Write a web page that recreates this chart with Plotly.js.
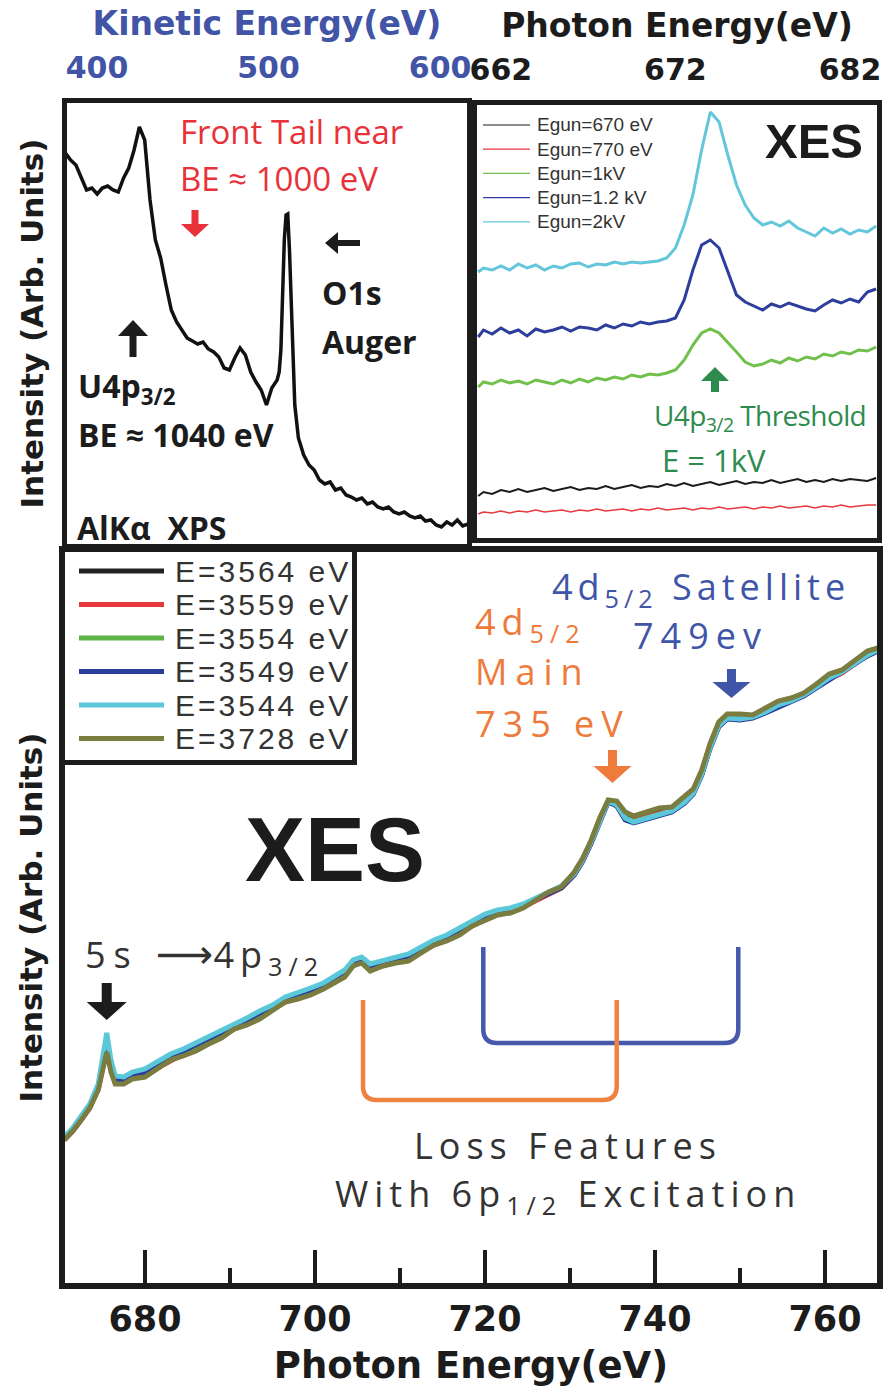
<!DOCTYPE html>
<html>
<head>
<meta charset="utf-8">
<script src="https://cdn.plot.ly/plotly-3.0.1.min.js"></script>
<style>
  html, body { margin: 0; padding: 0; background: #fff; }
  #chart { width: 883px; height: 1395px; }
</style>
</head>
<body>
<div id="chart"></div>
<script>
// ---------- Al Kα XPS survey: kinetic energy (eV) vs intensity ----------
const xpsKE = [381.5, 384.6, 387.7, 390.8, 393.9, 397.0, 400.1, 403.1, 406.2, 409.3,
  412.4, 415.5, 418.5, 421.6, 424.7, 427.8, 430.9, 434.0, 437.1, 440.2,
  443.3, 446.4, 449.4, 452.5, 455.6, 458.7, 461.8, 464.9, 468.0, 471.0,
  474.1, 477.2, 480.3, 483.4, 486.5, 489.6, 492.7, 495.7, 498.8, 501.9,
  505.0, 506.2, 507.2, 508.1, 509.2, 510.2, 511.2, 512.2, 513.3, 514.3,
  515.3, 517.4, 520.5, 523.6, 526.6, 529.7, 532.8, 535.9, 539.0, 542.1,
  545.2, 548.3, 551.3, 554.4, 557.6, 560.6, 563.7, 566.8, 569.9, 573.0,
  576.1, 579.2, 582.3, 585.4, 588.5, 591.5, 594.6, 597.7, 600.8, 603.9,
  607.0, 610.1, 613.2, 616.3];
const xpsIntensity = [393, 386, 381, 368, 356, 358, 352, 358, 360, 356,
  354, 368, 378, 396, 419, 406, 346, 306, 288, 261,
  236, 224, 216, 208, 205, 202, 204, 197, 194, 189,
  178, 176, 188, 198, 191, 174, 164, 156, 141, 158,
  166, 174, 196, 246, 306, 331, 332, 296, 236, 176,
  141, 108, 91, 81, 76, 66, 62, 64, 56, 58,
  51, 49, 46, 48, 42, 44, 39, 37, 39, 34,
  32, 34, 30, 28, 30, 25, 26, 21, 19, 24,
  21, 26, 20, 22];

// ---------- XES near the U4p3/2 threshold, for several gun energies ----------
const xesEnergy = [660.7, 661.0, 661.5, 662.0, 662.5, 663.0, 663.5, 664.0, 664.5, 665.0,
  665.5, 666.0, 666.5, 667.0, 667.5, 668.0, 668.5, 669.0, 669.5, 670.0,
  670.5, 671.0, 671.5, 672.0, 672.5, 673.0, 673.5, 674.0, 674.5, 675.0,
  675.5, 676.0, 676.5, 677.0, 677.5, 678.0, 678.5, 679.0, 679.5, 680.0,
  680.5, 681.0, 681.5, 682.0, 682.5, 683.0, 683.5];
const xesLabels = ['Egun=670 eV', 'Egun=770 eV', 'Egun=1kV', 'Egun=1.2 kV', 'Egun=2kV'];
const xesGun670 = [50, 54, 52, 56, 54, 57, 54, 56, 58, 55, 57, 59, 56, 58, 57, 60, 57, 59, 61, 58,
  60, 59, 62, 60, 63, 60, 62, 64, 61, 63, 65, 62, 64, 63, 66, 63, 65, 67, 64, 66,
  64, 67, 65, 67, 66, 65, 68];
const xesGun770 = [32, 34, 33, 35, 33, 35, 34, 36, 34, 35, 36, 34, 36, 35, 37, 35, 36, 37, 35, 37,
  36, 38, 36, 37, 38, 36, 38, 37, 39, 37, 38, 39, 37, 39, 38, 40, 38, 39, 40, 38,
  40, 39, 41, 39, 40, 41, 41];
const xesGun1k = [159, 164, 162, 166, 163, 165, 162, 166, 164, 162, 166, 163, 167, 164, 168, 166, 169, 167, 171, 169,
  172, 171, 173, 176, 186, 201, 213, 217, 213, 204, 194, 184, 180, 182, 186, 183, 188, 185, 189, 187,
  192, 190, 194, 192, 196, 195, 199];
const xesGun1p2k = [209, 216, 212, 218, 213, 216, 210, 217, 214, 216, 219, 215, 219, 218, 216, 221, 218, 222, 220, 224,
  222, 224, 225, 228, 246, 276, 301, 306, 298, 274, 251, 244, 240, 236, 242, 239, 243, 240, 237, 235,
  241, 246, 243, 247, 244, 254, 257];
const xesGun2k = [274, 278, 276, 280, 276, 282, 278, 281, 276, 280, 278, 282, 283, 279, 282, 281, 284, 282, 284, 283,
  284, 285, 288, 298, 321, 351, 396, 434, 424, 391, 361, 341, 328, 321, 324, 320, 325, 318, 314, 310,
  318, 313, 317, 312, 316, 314, 320];

// ---------- XES over the 4d region, for several excitation energies ----------
const xesWideEnergy = [670.5, 671.5, 672.5, 673.5, 674.5, 675.0, 675.5, 676.0, 676.5, 677.5,
  678.5, 680.0, 681.5, 683.0, 684.5, 686.0, 687.5, 689.0, 690.5, 692.0,
  693.5, 695.0, 696.5, 698.0, 699.5, 701.0, 702.5, 703.5, 704.5, 705.5,
  706.5, 708.0, 709.5, 711.0, 712.5, 714.0, 715.5, 717.0, 718.5, 720.0,
  721.5, 723.0, 724.5, 726.0, 727.5, 729.0, 730.5, 731.5, 732.5, 733.5,
  734.5, 735.5, 736.5, 737.5, 739.0, 740.5, 742.0, 743.5, 744.5, 745.5,
  746.5, 747.5, 748.5, 750.0, 751.5, 753.0, 754.5, 756.0, 757.5, 759.0,
  760.5, 762.0, 763.5, 765.0, 766.5];
const wideLabels = ['E=3564 eV', 'E=3559 eV', 'E=3554 eV', 'E=3549 eV', 'E=3544 eV', 'E=3728 eV'];
const wide3564 = [151, 160, 171, 183, 202, 225, 243, 222, 208, 208, 213, 216, 223, 231, 237, 242, 248, 254, 262, 267,
  274, 281, 289, 293, 298, 303, 310, 316, 326, 329, 322, 325, 329, 332, 339, 346, 351, 358, 366, 372,
  377, 379, 384, 390, 397, 403, 416, 430, 448, 471, 489, 486, 473, 470, 474, 477, 481, 490, 498, 517,
  544, 565, 573, 572, 574, 579, 585, 590, 596, 604, 612, 618, 627, 636, 641];
const wide3559 = [150, 159, 170, 182, 201, 224, 242, 221, 207, 207, 212, 215, 222, 230, 236, 241, 247, 253, 261, 266,
  273, 280, 288, 292, 297, 302, 309, 315, 325, 328, 321, 324, 328, 331, 338, 345, 350, 357, 365, 371,
  376, 378, 383, 389, 396, 402, 415, 429, 447, 470, 488, 485, 471, 469, 473, 476, 480, 489, 497, 516,
  543, 564, 572, 571, 573, 578, 584, 589, 595, 603, 611, 617, 626, 635, 640];
const wide3554 = [151, 160, 171, 183, 201, 226, 244, 223, 209, 209, 214, 216, 223, 231, 237, 243, 249, 255, 263, 268,
  275, 282, 290, 294, 299, 304, 311, 317, 327, 330, 323, 326, 330, 333, 340, 347, 352, 359, 367, 373,
  378, 380, 385, 391, 398, 404, 417, 431, 449, 471, 489, 487, 472, 468, 472, 475, 479, 488, 497, 516,
  543, 564, 572, 571, 573, 578, 584, 589, 595, 603, 611, 618, 626, 635, 641];
const wide3549 = [152, 160, 172, 184, 203, 228, 247, 226, 211, 210, 216, 218, 226, 234, 239, 245, 251, 257, 264, 270,
  277, 283, 291, 295, 300, 305, 312, 318, 328, 331, 324, 327, 331, 334, 341, 348, 353, 360, 368, 374,
  379, 381, 385, 391, 397, 402, 415, 429, 447, 469, 488, 484, 470, 467, 471, 474, 478, 487, 496, 515,
  542, 563, 571, 570, 572, 577, 583, 588, 594, 602, 610, 617, 625, 634, 640];
const wide3544 = [153, 162, 174, 186, 206, 235, 257, 230, 214, 213, 218, 221, 228, 236, 241, 247, 253, 259, 266, 272,
  279, 285, 293, 297, 302, 307, 314, 320, 330, 333, 326, 329, 333, 336, 343, 350, 355, 362, 370, 376,
  380, 382, 386, 392, 399, 404, 416, 430, 448, 470, 489, 485, 472, 468, 472, 475, 479, 488, 497, 516,
  543, 564, 572, 571, 573, 578, 585, 589, 595, 603, 612, 618, 626, 635, 641];
const wide3728 = [150, 159, 170, 182, 200, 220, 238, 218, 206, 206, 211, 213, 221, 230, 234, 239, 246, 252, 261, 265,
  271, 279, 288, 291, 295, 301, 309, 313, 324, 327, 319, 324, 327, 329, 337, 345, 349, 355, 364, 370,
  375, 377, 382, 390, 398, 403, 418, 432, 450, 472, 490, 489, 478, 474, 478, 482, 483, 493, 501, 520,
  547, 568, 576, 576, 575, 582, 589, 592, 597, 606, 616, 620, 629, 639, 643];

// Feature energies marked on the 4d panel (eV)
const line5s = 675.5, line4dMain = 735, line4dSat = 749;
// Loss-feature brackets: [start, end] energies (eV)
const lossMain = [705.65, 735.5], lossSat = [719.8, 749.8];

// ---------- styling ----------
const W = 883, H = 1395;
const px = x => x / W;          // pixel column -> paper x
const py = y => 1 - y / H;      // pixel row (from top) -> paper y
const INK = '#1c1c1c';
const AXF = 'DejaVu Sans';
const ANF = 'Open Sans';
const ARF = 'Liberation Sans';
const BLUE_T = '#4254a5', RED_T = '#e8323a', ORANGE = '#ee7a3b', BLUE2 = '#3f55a8', GREEN_T = '#2e8b4e';

const xesColors = ['#1b1b1b', '#e8393e', '#72c04c', '#2d3e9c', '#63c6da'];
const xesWidths = [2, 1.6, 3, 3, 3];
const xesSeries = [xesGun670, xesGun770, xesGun1k, xesGun1p2k, xesGun2k];
const wideColors = ['#222222', '#e5383b', '#5fb347', '#2b3d9a', '#5bc8d9', '#7b7d40'];
const wideSeries = [wide3564, wide3559, wide3554, wide3549, wide3544, wide3728];

const traces = [];
traces.push({x: xpsKE, y: xpsIntensity, xaxis: 'x2', yaxis: 'y2', mode: 'lines',
  name: 'AlKα XPS', line: {color: '#111', width: 3.5}});
xesSeries.forEach((s, i) => traces.push({x: xesEnergy, y: s, xaxis: 'x3', yaxis: 'y3', mode: 'lines',
  name: xesLabels[i], line: {color: xesColors[i], width: xesWidths[i]}}));
wideSeries.forEach((s, i) => traces.push({x: xesWideEnergy, y: s, xaxis: 'x', yaxis: 'y', mode: 'lines',
  name: wideLabels[i], line: {color: wideColors[i], width: 5}}));

const noGrid = {showgrid: false, zeroline: false};
const frame = (lw) => ({showline: true, mirror: true, linewidth: lw, linecolor: INK});

const layout = {
  width: W, height: H,
  margin: {l: 0, r: 0, t: 0, b: 0},
  paper_bgcolor: '#fff', plot_bgcolor: '#fff',
  showlegend: false,
  // 4d-region panel
  xaxis: Object.assign({domain: [px(65), px(877)], range: [670.59, 766.12], anchor: 'y',
    ticks: 'inside', ticklen: 33, tickwidth: 3.5, tickcolor: INK, tick0: 680, dtick: 20,
    minor: {ticks: 'inside', ticklen: 15, tickwidth: 3.5, tickcolor: INK, tick0: 680, dtick: 10},
    tickfont: {family: AXF, size: 35, color: INK, weight: 700},
    title: {text: 'Photon Energy(eV)', font: {family: AXF, size: 37, color: INK, weight: 700}, standoff: 16}
  }, noGrid, frame(6)),
  yaxis: Object.assign({domain: [py(1283), py(552)], range: [7, 738], anchor: 'x',
    ticks: '', showticklabels: false,
    title: {text: 'Intensity (Arb. Units)', font: {family: AXF, size: 31, color: INK, weight: 700}, standoff: 9}
  }, noGrid, frame(6)),
  // XPS panel
  xaxis2: Object.assign({domain: [px(67), px(467)], range: [382.5, 615.7], anchor: 'y2', side: 'top',
    ticks: '', tickvals: [400, 500, 600], ticklabelstandoff: 8,
    tickfont: {family: AXF, size: 30, color: BLUE_T, weight: 700},
    title: {text: 'Kinetic Energy(eV)', font: {family: AXF, size: 33, color: BLUE_T, weight: 700}, standoff: 6}
  }, noGrid, frame(5)),
  yaxis2: Object.assign({domain: [py(544), py(103)], range: [2, 443], anchor: 'x2',
    ticks: '', showticklabels: false,
    title: {text: 'Intensity (Arb. Units)', font: {family: AXF, size: 31, color: INK, weight: 700}, standoff: 11}
  }, noGrid, frame(5)),
  // low-energy XES panel
  xaxis3: Object.assign({domain: [px(477), px(877)], range: [660.63, 683.55], anchor: 'y3', side: 'top',
    ticks: '', tickvals: [662, 672, 682], ticklabelstandoff: 8,
    tickfont: {family: AXF, size: 30, color: INK, weight: 700},
    title: {text: 'Photon Energy(eV)', font: {family: AXF, size: 33, color: INK, weight: 700}, standoff: 6}
  }, noGrid, frame(5)),
  yaxis3: Object.assign({domain: [py(538), py(105)], range: [8, 441], anchor: 'x3',
    ticks: '', showticklabels: false}, noGrid, frame(5)),
  annotations: [],
  shapes: []
};

const A = layout.annotations, S = layout.shapes;
function text(t, x, y, font, extra) {
  A.push(Object.assign({text: t, x: px(x), y: py(y), xref: 'paper', yref: 'paper', showarrow: false,
    xanchor: 'left', yanchor: 'middle', font: font}, extra || {}));
}
// Block arrow drawn as a filled path, sized in pixels around its tip.
// dir: 'down' | 'up' | 'left'; L = total length, h = head length, sw/hw = half widths of shaft/head.
function blockArrow(x, y, dir, L, h, sw, hw, color, xref) {
  let p;
  if (dir === 'down') p = `M${-sw},${L} L${sw},${L} L${sw},${h} L${hw},${h} L0,0 L${-hw},${h} L${-sw},${h} Z`;
  else if (dir === 'up') p = `M${-sw},${-L} L${sw},${-L} L${sw},${-h} L${hw},${-h} L0,0 L${-hw},${-h} L${-sw},${-h} Z`;
  else p = `M${L},${-sw} L${L},${sw} L${h},${sw} L${h},${hw} L0,0 L${h},${-hw} L${h},${-sw} Z`;
  S.push({type: 'path', xref: xref || 'paper', yref: 'paper', xsizemode: 'pixel', ysizemode: 'pixel',
    xanchor: xref ? x : px(x), yanchor: py(y), path: p, fillcolor: color, line: {width: 0}, layer: 'above'});
}
const sp = (s, t) => '<span style="letter-spacing:' + s + 'px">' + t + '</span>';

// --- XPS panel labels
text('Front Tail near', 178, 132, {family: ANF, size: 33, color: RED_T});
text('BE ≈ 1000 eV', 178, 179, {family: ANF, size: 33, color: RED_T});
blockArrow(195, 237, 'down', 27, 13, 3.5, 14, RED_T);
blockArrow(325, 243, 'left', 35, 13, 3, 11, INK);
text('O1s', 320, 292, {family: ANF, size: 32, color: INK, weight: 700});
text('Auger', 320, 341, {family: ANF, size: 32, color: INK, weight: 700});
blockArrow(133, 320, 'up', 37, 16, 3.5, 15, INK);
text('U4p<sub>3/2</sub>', 76, 388, {family: ANF, size: 32, color: INK, weight: 700});
text('BE ≈ 1040 eV', 76, 435, {family: ANF, size: 32, color: INK, weight: 700});
text('AlKα  XPS', 75, 527, {family: ANF, size: 32, color: INK, weight: 700});

// --- low-energy XES labels
text('XES', 814, 141, {family: ARF, size: 49, color: INK, weight: 700}, {xanchor: 'center'});
blockArrow(715, 367, 'up', 25, 14, 4, 14, GREEN_T);
text(sp(-0.6, 'U4p<sub>3/2</sub> Threshold'), 652, 417, {family: ANF, size: 28, color: GREEN_T});
text('E = 1kV', 714, 460, {family: ANF, size: 31, color: GREEN_T}, {xanchor: 'center'});
xesLabels.forEach((lab, i) => {
  const yy = 125 + i * 24.2;
  S.push({type: 'line', xref: 'paper', yref: 'paper', x0: px(483), x1: px(530), y0: py(yy), y1: py(yy),
    line: {color: xesColors[i], width: 1.2}});
  text(lab, 535, yy, {family: ARF, size: 19, color: '#333'});
});

// --- 4d panel legend (boxed)
S.push({type: 'line', xref: 'paper', yref: 'paper', x0: px(354.5), x1: px(354.5), y0: py(549), y1: py(765),
  line: {color: INK, width: 5}});
S.push({type: 'line', xref: 'paper', yref: 'paper', x0: px(62), x1: px(357), y0: py(762.5), y1: py(762.5),
  line: {color: INK, width: 5}});
wideLabels.forEach((lab, i) => {
  const yy = 571 + i * 33.5;
  S.push({type: 'line', xref: 'paper', yref: 'paper', x0: px(79), x1: px(164), y0: py(yy), y1: py(yy),
    line: {color: wideColors[i], width: 5}});
  text(sp(3, lab), 173, yy, {family: ARF, size: 30, color: '#333'});
});

// --- 4d panel labels
text('XES', 335, 850, {family: ARF, size: 90, color: INK, weight: 700}, {xanchor: 'center'});
text(sp(8, '5s ') + '<span style="font-family:DejaVu Sans;font-size:40px">⟶</span>' + sp(6, '4p<sub>3/2</sub>'), 83, 956,
  {family: ANF, size: 36, color: '#333'});
blockArrow(line5s, 1020, 'down', 37, 18, 5, 20, INK, 'x');
text(sp(6, '4d<sub>5/2</sub>'), 473, 624, {family: ANF, size: 36, color: ORANGE});
text(sp(8, 'Main'), 473, 671, {family: ANF, size: 36, color: ORANGE});
text(sp(7, '735 eV'), 473, 723, {family: ANF, size: 36, color: ORANGE});
blockArrow(line4dMain, 783, 'down', 33, 17, 4.5, 19, ORANGE, 'x');
text(sp(5, '4d<sub>5/2</sub> Satellite'), 550, 588, {family: ANF, size: 36, color: BLUE2});
text(sp(7, '749ev'), 700, 635, {family: ANF, size: 36, color: BLUE2}, {xanchor: 'center'});
blockArrow(line4dSat, 698, 'down', 29, 16, 4.5, 19, BLUE2, 'x');
text(sp(6, 'Loss Features'), 568, 1145, {family: ANF, size: 36, color: '#333'}, {xanchor: 'center'});
text(sp(6, 'With 6p<sub>1/2</sub> Excitation'), 568, 1195, {family: ANF, size: 36, color: '#333'}, {xanchor: 'center'});

// loss-feature brackets drawn in data coordinates
function bracket(range, top, bottom, color) {
  const [a, b] = range, rx = 1.6, ry = 14;
  S.push({type: 'path', xref: 'x', yref: 'y', layer: 'above',
    path: `M${a},${top} L${a},${bottom + ry} Q${a},${bottom} ${a + rx},${bottom} L${b - rx},${bottom} Q${b},${bottom} ${b},${bottom + ry} L${b},${top}`,
    line: {color: color, width: 4.5}});
}
bracket(lossSat, 343, 247, '#4659ad');
bracket(lossMain, 290, 190, '#f0823f');

Plotly.newPlot('chart', traces, layout, {staticPlot: true, displayModeBar: false});
</script>
</body>
</html>
